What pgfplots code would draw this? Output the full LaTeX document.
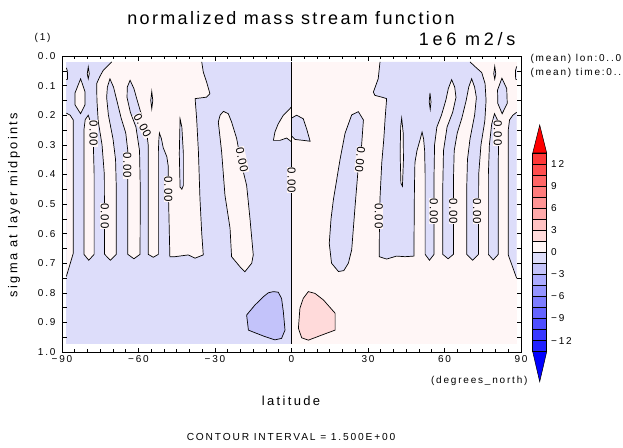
\documentclass[border=0pt]{standalone}
\usepackage{fontspec}
\setmainfont{Liberation Sans}
\newfontfamily\dcl[LetterSpace=18]{Liberation Sans}
\newfontfamily\dclt[LetterSpace=13]{Liberation Sans}
\newfontfamily\dclu[LetterSpace=21]{Liberation Sans}
\newfontfamily\dcll[LetterSpace=8]{Liberation Sans}
\usepackage{pgfplots}
\pgfplotsset{compat=1.18}
\definecolor{pA}{RGB}{255,246,246}
\definecolor{pB}{RGB}{255,218,218}
\definecolor{pC}{RGB}{255,194,194}
\definecolor{pD}{RGB}{255,170,170}
\definecolor{pE}{RGB}{255,148,148}
\definecolor{pF}{RGB}{255,124,124}
\definecolor{pG}{RGB}{255,102,102}
\definecolor{pH}{RGB}{255,78,78}
\definecolor{pI}{RGB}{255,56,56}
\definecolor{nA}{RGB}{221,221,250}
\definecolor{nB}{RGB}{195,195,250}
\definecolor{nC}{RGB}{171,171,255}
\definecolor{nD}{RGB}{148,148,255}
\definecolor{nE}{RGB}{124,124,255}
\definecolor{nF}{RGB}{100,100,255}
\definecolor{nG}{RGB}{78,78,255}
\definecolor{nH}{RGB}{56,56,255}
\definecolor{nI}{RGB}{34,34,255}
\begin{document}
\begin{tikzpicture}[x=1pt,y=1pt,
  lab/.style={fill=pA, inner sep=0.5pt, font=\dcll\fontsize{11.5}{13}\selectfont},
  cont/.style={draw=black, line width=0.7pt}]
\path[use as bounding box] (0,0) rectangle (623,447);
\begin{axis}[at={(62pt,95pt)}, anchor=south west, width=459pt, height=296pt, scale only axis,
  xmin=-90, xmax=90, ymin=0, ymax=1, y dir=reverse, axis on top,
  tick align=inside,
  xtick={-90,-60,-30,0,30,60,90},
  xticklabels={−90,−60,−30,0,30,60,90},
  minor xtick={-85,-80,-75,-70,-65,-55,-50,-45,-40,-35,-25,-20,-15,-10,-5,5,10,15,20,25,35,40,45,50,55,65,70,75,80,85},
  ytick={0,0.05,0.1,0.15,0.2,0.25,0.3,0.35,0.4,0.45,0.5,0.55,0.6,0.65,0.7,0.75,0.8,0.85,0.9,0.95,1.0},
  yticklabels={0.0,{},0.1,{},0.2,{},0.3,{},0.4,{},0.5,{},0.6,{},0.7,{},0.8,{},0.9,{},1.0},
  ticklabel style={font=\dcl\fontsize{10}{12}\selectfont},
  yticklabel style={xshift=-3pt},
  axis line style={line width=0.9pt},
  major tick length=4.5pt, minor tick length=3pt,
  every tick/.style={black, line width=0.6pt}]
% base fills
\addplot[fill=nA, draw=none] coordinates {(-88.3,0.02)(0,0.02)(0,0.974)(-88.3,0.974)} -- cycle;
\addplot[fill=pA, draw=none] coordinates {(0,0.02)(88.3,0.02)(88.3,0.974)(0,0.974)} -- cycle;
% right half: big negative region
\addplot[fill=nA, cont] coordinates {(70.0,0.02)(72.5,0.04)(74.6,0.056)(75.9,0.093)(76.3,0.15)(75.8,0.22)(74.3,0.30)(73.4,0.40)(73.3,0.67)(71.0,0.69)(68.7,0.67)(68.7,0.45)(69.0,0.35)(70.0,0.28)(71.8,0.2)(72.5,0.14)(71.8,0.105)(70.65,0.077)(69.5,0.105)(68.5,0.15)(66.8,0.21)(65.0,0.26)(63.8,0.32)(63.5,0.42)(63.5,0.67)(61.4,0.685)(59.3,0.67)(59.3,0.45)(59.6,0.32)(61.0,0.24)(63.2,0.19)(64.5,0.14)(64.0,0.105)(62.8,0.08)(61.5,0.11)(60.5,0.15)(58.8,0.2)(57.0,0.24)(56.1,0.3)(55.9,0.4)(55.9,0.67)(54.1,0.69)(52.4,0.67)(52.4,0.40)(52.2,0.32)(51.8,0.28)(51.2,0.257)(50.5,0.28)(49.2,0.32)(48.4,0.36)(48.2,0.45)(48.0,0.676)(44.5,0.678)(41.2,0.676)(37.3,0.686)(34.4,0.678)(34.5,0.55)(34.7,0.48)(35.4,0.36)(36.2,0.28)(36.7,0.212)(37.3,0.144)(35.4,0.139)(32.7,0.133)(32.1,0.122)(34.0,0.077)(34.7,0.02)};
\addplot[fill=nA, cont] coordinates {(79.6,0.195)(80.7,0.215)(81.3,0.25)(81.1,0.35)(81.1,0.67)(79.1,0.689)(77.2,0.67)(77.2,0.40)(77.6,0.3)(78.5,0.23)} -- cycle;
\addplot[fill=nA, cont] coordinates {(88.3,0.19)(86.8,0.2)(85.5,0.216)(85.0,0.25)(85.0,0.672)(88.3,0.751)};
\addplot[fill=nA, cont] coordinates {(82.5,0.075)(84.4,0.11)(84.6,0.16)(82.6,0.195)(80.9,0.16)(80.8,0.115)} -- cycle;
\addplot[fill=nA, cont] coordinates {(79.7,0.035)(80.1,0.06)(79.7,0.078)(79.3,0.06)} -- cycle;
\addplot[fill=nA, cont] coordinates {(88.3,0.035)(87.8,0.05)(87.9,0.078)(88.3,0.08)};
\addplot[fill=pA, cont] coordinates {(54.3,0.125)(54.7,0.155)(54.4,0.18)(54.0,0.155)} -- cycle;
\addplot[fill=pA, cont] coordinates {(43.2,0.21)(43.8,0.26)(43.9,0.35)(43.5,0.44)(42.9,0.43)(42.6,0.33)(42.8,0.24)} -- cycle;
\addplot[fill=nA, cont] coordinates {(26.2,0.188)(28.2,0.216)(27.5,0.30)(26.2,0.374)(25.0,0.5)(23.6,0.655)(22.3,0.70)(20.5,0.725)(18.4,0.728)(15.7,0.70)(14.8,0.633)(15.5,0.55)(16.4,0.487)(19.0,0.351)(21.0,0.261)(23.6,0.199)} -- cycle;
\addplot[fill=nA, cont] coordinates {(0,0.21)(2.0,0.20)(4.6,0.212)(5.9,0.245)(7.3,0.288)(4.6,0.285)(1.4,0.282)(0,0.27)};
\addplot[fill=pB, cont] coordinates {(6.6,0.796)(9.2,0.802)(12.5,0.824)(17.1,0.869)(17.1,0.926)(11.8,0.943)(6.6,0.96)(4.0,0.952)(2.7,0.92)(3.3,0.852)(4.6,0.819)} -- cycle;
% left half: big positive region
\addplot[fill=pA, cont] coordinates {(-70.5,0.02)(-73.8,0.048)(-75.2,0.07)(-76.4,0.093)(-76.3,0.15)(-75.8,0.22)(-74.3,0.30)(-73.4,0.40)(-73.3,0.67)(-71.0,0.69)(-68.7,0.67)(-68.7,0.45)(-69.0,0.35)(-70.0,0.28)(-71.8,0.2)(-72.5,0.14)(-72.2,0.105)(-71.2,0.077)(-69.8,0.105)(-68.5,0.15)(-66.8,0.21)(-65.0,0.26)(-64.2,0.32)(-64.2,0.42)(-64.2,0.67)(-61.8,0.685)(-59.4,0.67)(-59.3,0.45)(-59.6,0.32)(-61.0,0.24)(-63.2,0.19)(-64.5,0.14)(-64.4,0.105)(-63.3,0.082)(-61.8,0.11)(-60.5,0.15)(-58.8,0.2)(-57.0,0.24)(-56.2,0.3)(-56.2,0.4)(-56.2,0.67)(-54.2,0.68)(-52.2,0.67)(-52.2,0.40)(-52.2,0.32)(-52.0,0.28)(-51.8,0.26)(-51.0,0.28)(-50.3,0.31)(-48.9,0.34)(-48.3,0.374)(-48.3,0.45)(-47.7,0.678)(-45.7,0.678)(-40.5,0.672)(-37.8,0.683)(-34.6,0.672)(-35.2,0.60)(-35.9,0.482)(-36.5,0.324)(-37.2,0.212)(-37.8,0.144)(-33.3,0.139)(-32.0,0.127)(-33.3,0.088)(-34.6,0.054)(-35.2,0.02)};
\addplot[fill=pA, cont] coordinates {(-79.7,0.2)(-80.9,0.215)(-81.4,0.25)(-81.4,0.35)(-81.4,0.67)(-79.5,0.69)(-77.4,0.67)(-77.4,0.40)(-77.7,0.3)(-78.6,0.23)} -- cycle;
\addplot[fill=pA, cont] coordinates {(-88.3,0.193)(-86.8,0.2)(-85.6,0.216)(-85.6,0.25)(-85.6,0.667)(-88.3,0.745)};
\addplot[fill=pA, cont] coordinates {(-82.7,0.077)(-84.9,0.125)(-84.9,0.165)(-82.7,0.195)(-81.0,0.165)(-81.0,0.12)} -- cycle;
\addplot[fill=pA, cont] coordinates {(-79.7,0.037)(-79.3,0.06)(-79.7,0.077)(-80.1,0.06)} -- cycle;
\addplot[fill=pA, cont] coordinates {(-88.3,0.04)(-87.9,0.05)(-87.8,0.078)(-88.3,0.08)};
\addplot[fill=nA, cont] coordinates {(-54.8,0.12)(-54.4,0.15)(-54.8,0.178)(-55.2,0.15)} -- cycle;
\addplot[fill=nA, cont] coordinates {(-43.7,0.212)(-43.0,0.24)(-42.4,0.33)(-42.4,0.437)(-43.0,0.45)(-43.7,0.443)(-44.0,0.33)} -- cycle;
\addplot[fill=pA, cont] coordinates {(-26.7,0.187)(-24.8,0.195)(-23.5,0.223)(-21.5,0.279)(-19.8,0.36)(-17.6,0.437)(-16.3,0.548)(-15.0,0.672)(-15.6,0.70)(-18.3,0.729)(-20.2,0.712)(-23.5,0.678)(-24.1,0.582)(-26.1,0.47)(-27.4,0.324)(-28.7,0.223)(-28.0,0.2)} -- cycle;
\addplot[fill=pA, cont] coordinates {(0,0.172)(-1.3,0.184)(-3.2,0.2)(-5.2,0.229)(-6.5,0.257)(-7.1,0.285)(-4.5,0.285)(-1.9,0.277)(0,0.29)};
\addplot[fill=nB, cont] coordinates {(-7.1,0.796)(-5.2,0.798)(-3.9,0.819)(-3.2,0.864)(-2.55,0.926)(-3.9,0.954)(-6.5,0.959)(-10.4,0.948)(-13.7,0.937)(-16.9,0.926)(-17.6,0.875)(-14.3,0.841)(-11.0,0.813)(-9.1,0.8)} -- cycle;
% equator zero line
\addplot[cont] coordinates {(0,0.02)(0,0.974)};
% contour labels
\node[lab, rotate=-90] at (axis cs:-77.6,0.262) {0.00};
\node[lab, rotate=-90] at (axis cs:-73.2,0.54) {0.00};
\node[lab, rotate=-90] at (axis cs:-64.4,0.37) {0.00};
\node[lab, rotate=-62] at (axis cs:-58.4,0.235) {0.00};
\node[lab, rotate=-90] at (axis cs:-48.3,0.45) {0.00};
\node[lab, rotate=-78] at (axis cs:-19.4,0.35) {0.00};
\node[lab, rotate=-90] at (axis cs:0,0.42) {0.00};
\node[lab, rotate=-96] at (axis cs:26.9,0.35) {0.00};
\node[lab, rotate=-90] at (axis cs:34.2,0.54) {0.00};
\node[lab, rotate=-90] at (axis cs:55.8,0.525) {0.00};
\node[lab, rotate=-90] at (axis cs:63.5,0.525) {0.00};
\node[lab, rotate=-90] at (axis cs:72.8,0.525) {0.00};
\node[lab, rotate=-90] at (axis cs:80.9,0.26) {0.00};
\end{axis}
% colour bar
\begin{axis}[at={(532.7pt,65.3pt)}, anchor=south west, width=14pt, height=256.7pt, scale only axis,
  xmin=0, xmax=1, ymin=-17.58, ymax=17.30, clip=false,
  axis line style={draw=none}, xtick=\empty,
  ytick={-12,-9,-6,-3,0,3,6,9,12},
  yticklabels={−12,−9,−6,−3,0,3,6,9,12},
  yticklabel pos=right, major tick length=0pt,
  ticklabel style={font=\dcl\fontsize{10}{12}\selectfont},
  yticklabel style={xshift=1pt}]
\addplot[fill=blue, draw=black, line width=0.5pt] coordinates {(0,-13.5)(1,-13.5)(0.5,-17.58)} -- cycle;
\addplot[fill=nI, draw=black, line width=0.5pt] coordinates {(0,-13.5)(1,-13.5)(1,-12)(0,-12)} -- cycle;
\addplot[fill=nH, draw=black, line width=0.5pt] coordinates {(0,-12)(1,-12)(1,-10.5)(0,-10.5)} -- cycle;
\addplot[fill=nG, draw=black, line width=0.5pt] coordinates {(0,-10.5)(1,-10.5)(1,-9)(0,-9)} -- cycle;
\addplot[fill=nF, draw=black, line width=0.5pt] coordinates {(0,-9)(1,-9)(1,-7.5)(0,-7.5)} -- cycle;
\addplot[fill=nE, draw=black, line width=0.5pt] coordinates {(0,-7.5)(1,-7.5)(1,-6)(0,-6)} -- cycle;
\addplot[fill=nD, draw=black, line width=0.5pt] coordinates {(0,-6)(1,-6)(1,-4.5)(0,-4.5)} -- cycle;
\addplot[fill=nC, draw=black, line width=0.5pt] coordinates {(0,-4.5)(1,-4.5)(1,-3)(0,-3)} -- cycle;
\addplot[fill=nB, draw=black, line width=0.5pt] coordinates {(0,-3)(1,-3)(1,-1.5)(0,-1.5)} -- cycle;
\addplot[fill=nA, draw=black, line width=0.5pt] coordinates {(0,-1.5)(1,-1.5)(1,0)(0,0)} -- cycle;
\addplot[fill=pA, draw=black, line width=0.5pt] coordinates {(0,0)(1,0)(1,1.5)(0,1.5)} -- cycle;
\addplot[fill=pB, draw=black, line width=0.5pt] coordinates {(0,1.5)(1,1.5)(1,3)(0,3)} -- cycle;
\addplot[fill=pC, draw=black, line width=0.5pt] coordinates {(0,3)(1,3)(1,4.5)(0,4.5)} -- cycle;
\addplot[fill=pD, draw=black, line width=0.5pt] coordinates {(0,4.5)(1,4.5)(1,6)(0,6)} -- cycle;
\addplot[fill=pE, draw=black, line width=0.5pt] coordinates {(0,6)(1,6)(1,7.5)(0,7.5)} -- cycle;
\addplot[fill=pF, draw=black, line width=0.5pt] coordinates {(0,7.5)(1,7.5)(1,9)(0,9)} -- cycle;
\addplot[fill=pG, draw=black, line width=0.5pt] coordinates {(0,9)(1,9)(1,10.5)(0,10.5)} -- cycle;
\addplot[fill=pH, draw=black, line width=0.5pt] coordinates {(0,10.5)(1,10.5)(1,12)(0,12)} -- cycle;
\addplot[fill=pI, draw=black, line width=0.5pt] coordinates {(0,12)(1,12)(1,13.5)(0,13.5)} -- cycle;
\addplot[fill=red, draw=black, line width=0.5pt] coordinates {(0,13.5)(1,13.5)(0.5,17.30)} -- cycle;
\end{axis}
% texts
\node[font=\dclt\fontsize{18}{20}\selectfont, anchor=base] at (291,422) {normalized mass stream function};
\node[font=\dclu\fontsize{18}{20}\selectfont, anchor=base east] at (519,401) {1e6 m2/s};
\node[font=\dcl\fontsize{10}{12}\selectfont, anchor=base east] at (54,406) {(1)};
\node[font=\dcl\fontsize{10}{12}\selectfont, anchor=base west] at (527,385) {(mean) lon:0..0};
\node[font=\dcl\fontsize{10}{12}\selectfont, anchor=base west] at (527,371) {(mean) time:0..0};
\node[font=\dcl\fontsize{12.8}{15}\selectfont, rotate=90] at (14,242) {sigma at layer midpoints};
\node[font=\dcl\fontsize{13}{15}\selectfont] at (291,46) {latitude};
\node[font=\dcl\fontsize{10}{12}\selectfont, anchor=east] at (531,66) {(degrees\_north)};
\node[font=\dcl\fontsize{10.2}{12}\selectfont] at (291,10) {CONTOUR INTERVAL = 1.500E+00};
\end{tikzpicture}
\end{document}
